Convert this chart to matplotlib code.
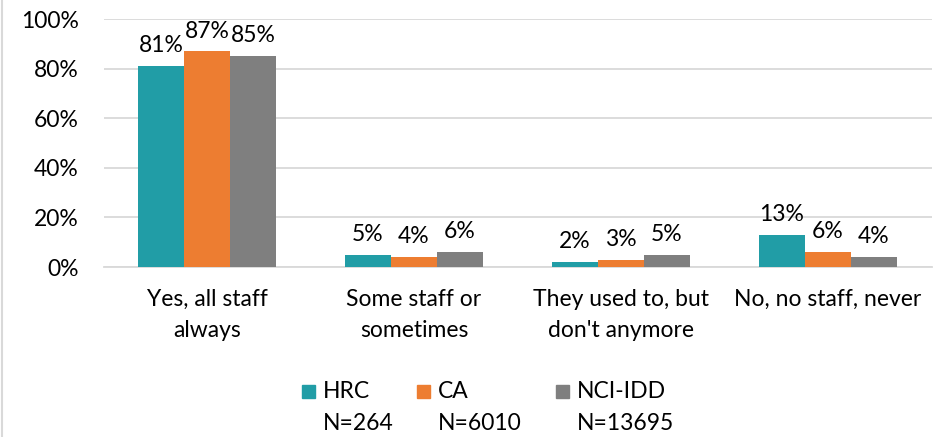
import matplotlib
matplotlib.use("Agg")
import matplotlib.pyplot as plt
import numpy as np
from matplotlib.patches import Rectangle
from matplotlib.lines import Line2D

categories = ["Yes, all staff\nalways", "Some staff or\nsometimes",
              "They used to, but\ndon't anymore", "No, no staff, never"]
series = ["HRC", "CA", "NCI-IDD"]
sample_sizes = ["N=264", "N=6010", "N=13695"]
hrc = [81, 5, 2, 13]
ca = [87, 4, 3, 6]
nci_idd = [85, 6, 5, 4]
colors = ["#219DA6", "#ED7D31", "#7F7F7F"]

plt.rcParams["font.family"] = ["Lato", "DejaVu Sans"]
FS = 16.5

fig = plt.figure(figsize=(9.51, 4.37), dpi=100)
ax = fig.add_axes([103.5 / 951, 170 / 437, 828 / 951, 248 / 437])

x = np.arange(len(categories))
w = 0.222
for i, (vals, c) in enumerate(zip([hrc, ca, nci_idd], colors)):
    pos = x + (i - 1) * w
    ax.bar(pos, vals, width=w, color=c, zorder=3)
    for px, v in zip(pos, vals):
        ax.annotate(f"{v}%", (px, v), xytext=(0, 7), textcoords="offset points",
                    ha="center", va="bottom", fontsize=FS, color="#000000")

ax.set_xlim(-0.5, len(categories) - 0.5)
ax.set_ylim(0, 100)
ax.set_yticks(range(0, 101, 20))
ax.set_yticklabels([f"{t}%" for t in range(0, 101, 20)])
ax.set_xticks(x)
ax.set_xticklabels(categories, linespacing=1.55)
ax.tick_params(axis="both", length=0, labelsize=FS, colors="#000000")
ax.tick_params(axis="y", pad=18)
ax.tick_params(axis="x", pad=16)
ax.yaxis.grid(True, color="#D9D9D9", lw=1.3, zorder=0)
for s in ["top", "right", "left"]:
    ax.spines[s].set_visible(False)
ax.spines["bottom"].set_color("#D9D9D9")
ax.spines["bottom"].set_linewidth(1.3)

# legend: colour squares with name, sample size on the line below
leg_x = [302, 417, 556]
for lx, name, n, c in zip(leg_x, series, sample_sizes, colors):
    fig.patches.append(Rectangle((lx / 951, 1 - 398 / 437), 13 / 951, 13 / 437,
                                 transform=fig.transFigure, color=c))
    fig.text((lx + 21) / 951, 1 - 391 / 437, name, fontsize=FS, va="center", ha="left")
    fig.text((lx + 21) / 951, 1 - 424 / 437, n, fontsize=FS, va="center", ha="left")

# chart border on the left edge
fig.add_artist(Line2D([2 / 951, 2 / 951], [0, 1], transform=fig.transFigure,
                      color="#D9D9D9", lw=1.5))

fig.savefig("out.png", dpi=100)
